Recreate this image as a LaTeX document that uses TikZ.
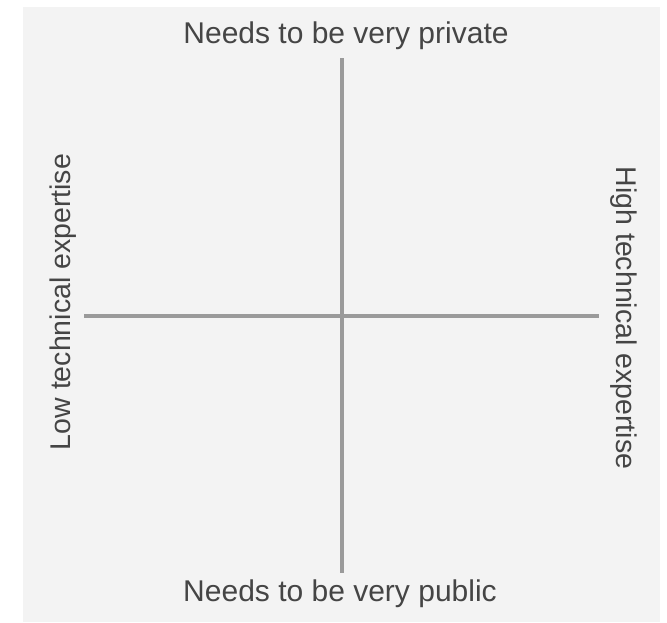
\documentclass[tikz,border=0pt]{standalone}
\usepackage{fontspec}
\setmainfont{Liberation Sans}

\begin{document}
\begin{tikzpicture}[x=1pt,y=-1pt]
% Colors define
\definecolor{myGrey}{HTML}{F3F3F3}
\definecolor{myAxis}{HTML}{9A9A9A}
\definecolor{myText}{HTML}{454545}

\tikzset{label/.style={text=myText,font=\fontsize{30}{33}\selectfont,inner sep=0pt},
         side/.style={label,font=\fontsize{28.5}{31}\selectfont}}

% Picture size and background
\useasboundingbox (0,0) rectangle (667,622);
\fill[myGrey] (23,7) rectangle (660,622);

% Important positions
\coordinate (T) at (342,58);
\coordinate (B) at (342,573);
\coordinate (L) at (84,316);
\coordinate (R) at (599,316);

% Axes
\draw[myAxis,line width=4] (T) -- (B);
\draw[myAxis,line width=4] (L) -- (R);

% Labels
\node[label] (private) at (346,36) {Needs to be very private};
\node[label] (public) at (340,594) {Needs to be very public};
\node[side,rotate=90] (low) at (63,302) {Low technical expertise};
\node[side,rotate=-90] (high) at (624,318) {High technical expertise};
\end{tikzpicture}
\end{document}
